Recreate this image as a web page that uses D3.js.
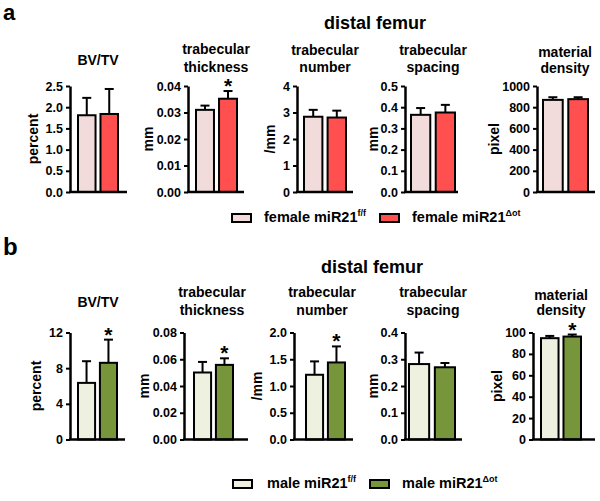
<!DOCTYPE html>
<html><head><meta charset="utf-8">
<script src="https://cdn.jsdelivr.net/npm/d3@7"></script>
<style>
body{margin:0;background:#fff}
text{font-family:"Liberation Sans",Arial,sans-serif;font-weight:bold;fill:#000}
</style>
</head><body><svg id="c" width="600" height="501"></svg>
<script>
// ---------- data ----------
const panelTitles = [["BV/TV"],["trabecular","thickness"],["trabecular","number"],["trabecular","spacing"],["material","density"]];
const yLabels = ["percent","mm","/mm","mm","pixel"];
const groups = ["ff","ot"];

// panel a: female
const femaleTicks = [[0,0.5,1,1.5,2,2.5],[0,0.01,0.02,0.03,0.04],[0,1,2,3,4],[0,0.1,0.2,0.3,0.4,0.5],[0,200,400,600,800,1000]];
const femaleTickLabels = [["0.0","0.5","1.0","1.5","2.0","2.5"],["0.00","0.01","0.02","0.03","0.04"],["0","1","2","3","4"],["0.0","0.1","0.2","0.3","0.4","0.5"],["0","200","400","600","800","1000"]];
const femaleFFMean  = [1.81, 0.0310, 2.84, 0.364, 869];
const femaleFFUpper = [2.22, 0.0326, 3.10, 0.396, 894];
const femaleOTMean  = [1.84, 0.0352, 2.81, 0.375, 876];
const femaleOTUpper = [2.43, 0.0381, 3.07, 0.411, 894];
const femaleSig = [false, true, false, false, false];
const femaleLegend = [["female miR21","f/f"],["female miR21","\u0394ot"]];

// panel b: male
const maleTicks = [[0,4,8,12],[0,0.02,0.04,0.06,0.08],[0,0.5,1,1.5,2],[0,0.1,0.2,0.3,0.4],[0,20,40,60,80,100]];
const maleTickLabels = [["0","4","8","12"],["0.00","0.02","0.04","0.06","0.08"],["0.0","0.5","1.0","1.5","2.0"],["0.0","0.1","0.2","0.3","0.4"],["0","20","40","60","80","100"]];
const maleFFMean  = [6.35, 0.0501, 1.21, 0.282, 94.7];
const maleFFUpper = [8.78, 0.0580, 1.46, 0.325, 96.8];
const maleOTMean  = [8.60, 0.0558, 1.44, 0.270, 96.2];
const maleOTUpper = [11.2, 0.0607, 1.74, 0.286, 98.1];
const maleSig = [true, true, true, false, true];
const maleLegend = [["male miR21","f/f"],["male miR21","\u0394ot"]];

const panelLetters = ["a","b"];
const sectionTitle = "distal femur";

// ---------- drawing ----------
const svg = d3.select("#c");
svg.append("rect").attr("width",600).attr("height",501).attr("fill","#fff");

function drawSection(cfg){
  const g = svg.append("g");
  g.append("text").text(cfg.letter).attr("x",3).attr("y",cfg.letterY).style("font-size",cfg.letterSize);
  g.append("text").text(sectionTitle).attr("x",cfg.titleX).attr("y",cfg.titleY)
    .attr("text-anchor","middle").style("font-size","18px");

  for(let i=0;i<5;i++){
    const ax = cfg.axisX[i];
    const maxV = cfg.ticks[i][cfg.ticks[i].length-1];
    const y = d3.scaleLinear().domain([0,maxV]).range([cfg.yBottom,cfg.yTop]);
    const x = d3.scaleBand().domain(groups).range([ax+cfg.bandL[i], ax+cfg.bandR[i]]).paddingInner(0.22);
    const pg = g.append("g");

    // title
    const lines = panelTitles[i];
    const tc = ax + 28;
    const tys = lines.length===1 ? [cfg.singleTitleY] : cfg.doubleTitleY[i];
    lines.forEach((ln,k)=>{
      pg.append("text").text(ln).attr("x",tc).attr("y",tys[k]).attr("text-anchor","middle").style("font-size","14px");
    });

    // bars
    const means = [cfg.ffMean[i], cfg.otMean[i]];
    const uppers = [cfg.ffUpper[i], cfg.otUpper[i]];
    const cols = cfg.colors;
    groups.forEach((gr,k)=>{
      const cx = x(gr) + x.bandwidth()/2;
      // error bar
      pg.append("line").attr("x1",cx).attr("x2",cx).attr("y1",y(means[k])).attr("y2",y(uppers[k]))
        .attr("stroke","#000").attr("stroke-width",2);
      pg.append("line").attr("x1",cx-4.5).attr("x2",cx+4.5).attr("y1",y(uppers[k])).attr("y2",y(uppers[k]))
        .attr("stroke","#000").attr("stroke-width",2);
      pg.append("rect").attr("x",x(gr)).attr("width",x.bandwidth())
        .attr("y",y(means[k])).attr("height",y(0)-y(means[k]))
        .attr("fill",cols[k]).attr("stroke","#000").attr("stroke-width",2);
      if(k===1 && cfg.sig[i]){
        pg.append("text").text("*").attr("x",cx).attr("y",y(uppers[k])+2)
          .attr("text-anchor","middle").style("font-size","21px");
      }
    });

    // y axis
    const yAxis = d3.axisLeft(y).tickValues(cfg.ticks[i])
      .tickFormat((d,j)=>cfg.tickLabels[i][j]).tickSize(4).tickSizeOuter(0).tickPadding(3);
    const ag = pg.append("g").attr("transform",`translate(${ax},0)`).call(yAxis);
    ag.select(".domain").attr("stroke","#000").attr("stroke-width",2.5);
    ag.selectAll(".tick line").attr("stroke","#000").attr("stroke-width",2);
    ag.selectAll(".tick text").style("font-size","12.5px").style("font-family","'Liberation Sans',Arial,sans-serif")
      .style("font-weight","bold").attr("fill","#000");

    // x axis baseline
    const xl = d3.scaleLinear().domain([0,1]).range([ax-1, ax+cfg.axisLen[i]]);
    pg.append("line").attr("x1",xl(0)).attr("x2",xl(1)).attr("y1",y(0)).attr("y2",y(0))
      .attr("stroke","#000").attr("stroke-width",2.5);

    // y label
    const bb = ag.node().getBBox();
    const lx = ax + bb.x - cfg.labelGap[i];
    pg.append("text").text(yLabels[i])
      .attr("transform",`translate(${lx},${(cfg.yTop+cfg.yBottom)/2}) rotate(-90)`)
      .attr("text-anchor","middle").style("font-size","14px");
  }

  // legend
  cfg.legend.forEach((lg,k)=>{
    svg.append("rect").attr("x",cfg.legBoxX[k]).attr("y",cfg.legY-8).attr("width",19).attr("height",8)
      .attr("fill",cfg.colors[k]).attr("stroke","#000").attr("stroke-width",2);
    const t = svg.append("text").attr("x",cfg.legTextX[k]).attr("y",cfg.legY).style("font-size","14.5px");
    t.append("tspan").text(lg[0]);
    t.append("tspan").text(lg[1]).attr("dy",-6).style("font-size","9px");
  });
}

drawSection({
  letter: panelLetters[0], letterY: 20, letterSize: "22px", titleX: 375, titleY: 29,
  axisX: [70,188,297,405,537], axisLen: [57,56,56,53,58],
  bandL: [8,8,7,6,6], bandR: [48,49,49,50,51],
  yTop: 86, yBottom: 192,
  singleTitleY: 65, doubleTitleY: [null,[54,72],[55,72],[55,72],[57,73]],
  ticks: femaleTicks, tickLabels: femaleTickLabels,
  ffMean: femaleFFMean, ffUpper: femaleFFUpper, otMean: femaleOTMean, otUpper: femaleOTUpper,
  sig: femaleSig, colors: ["#f2dcdb","#ff4f4f"],
  labelGap: [8,4,8,3,3],
  legend: femaleLegend, legY: 222, legBoxX: [232,380], legTextX: [264,412]
});

drawSection({
  letter: panelLetters[1], letterY: 255, letterSize: "24px", titleX: 372, titleY: 273,
  axisX: [70,184,294,405,533], axisLen: [55,64,59,57,62],
  bandL: [8,10,12,4,8], bandR: [47,49,51,50,48],
  yTop: 332.5, yBottom: 439.5,
  singleTitleY: 307, doubleTitleY: [null,[297,315],[297,315],[297,315],[300,315]],
  ticks: maleTicks, tickLabels: maleTickLabels,
  ffMean: maleFFMean, ffUpper: maleFFUpper, otMean: maleOTMean, otUpper: maleOTUpper,
  sig: maleSig, colors: ["#eef1df","#77953a"],
  labelGap: [8,4,8,3,3],
  legend: maleLegend, legY: 488, legBoxX: [233,370], legTextX: [267,402]
});
</script>
</body></html>
